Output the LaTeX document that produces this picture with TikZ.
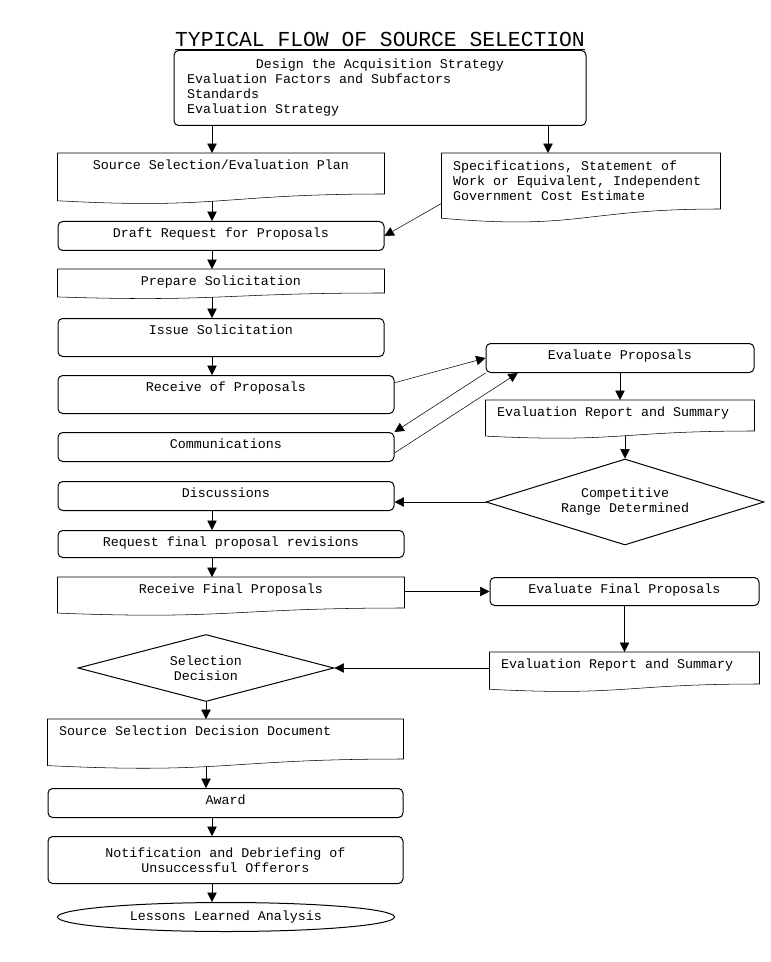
\documentclass[tikz,border=0pt]{standalone}
\usepackage{fontspec}
\setmonofont{Liberation Mono}
\usetikzlibrary{shapes.geometric, arrows.meta, calc, backgrounds}

% outline of a "document" box: flat top, wavy bottom
\newcommand{\docshape}[1]{%
  \draw[fill=white] (#1.north west) -- (#1.north east) -- (#1.south east)
    .. controls (#1.south) and ($(#1.south)!-0.381!(#1.north)$)
    .. ($(#1.south west)!-0.1646!(#1.north west)$) -- cycle;}

\begin{document}
\begin{tikzpicture}[
    x=0.75pt, y=-0.75pt,
    line width=0.75pt,
    every node/.style={font=\ttfamily\fontsize{10}{11.25}\selectfont,
      execute at begin node={\spaceskip=0pt\xspaceskip=0pt}},
    box/.style={rectangle, draw, rounded corners=3.5pt, anchor=north, inner sep=0pt, text height=12pt},
    tallbox/.style={rectangle, draw, rounded corners=3.5pt, anchor=north, inner ysep=0pt},
    docbox/.style={rectangle, anchor=north, inner sep=0pt, text height=12pt},
    leftdoc/.style={docbox, inner xsep=8.25pt, align=left},
    decision/.style={diamond, draw, inner sep=0pt, aspect=3.2, align=center},
    arrow/.style={-{Triangle[length=7pt, width=7pt]}}
  ]
    \useasboundingbox (0,0) rectangle (770,962);
    % Title
    \node[font=\ttfamily\fontsize{16}{19}\selectfont, anchor=base] (title) at (380,47) {\underline{TYPICAL FLOW OF SOURCE SELECTION}};
    % Nodes
    \node[tallbox, text width=289.5pt, inner xsep=9.75pt, minimum height=56.25pt, align=left] (design) at (380,50)
      {\makebox[\linewidth]{Design the Acquisition Strategy}\\Evaluation Factors and Subfactors\\Standards\\Evaluation Strategy};
    \node[docbox, minimum width=244.5pt, text depth=18pt] (plan) at (221,153) {Source Selection/Evaluation Plan};
    \node[anchor=north, inner ysep=0pt, inner xsep=8.25pt, text width=192pt, minimum height=41.25pt, align=left] (spec) at (581,153)
      {Specifications, Statement of\\Work or Equivalent, Independent\\Government Cost Estimate};
    \node[box, minimum width=244.5pt, text depth=9.75pt] (draft) at (221,221) {Draft Request for Proposals};
    \node[docbox, minimum width=244.5pt, text depth=5.25pt] (prep) at (221,269) {Prepare Solicitation};
    \node[box, minimum width=244.5pt, text depth=16.5pt] (issue) at (221,318) {Issue Solicitation};
    \node[box, minimum width=252pt, text depth=16.5pt] (recv) at (226,375) {Receive of Proposals};
    \node[box, minimum width=252pt, text depth=9.75pt] (comm) at (226,432) {Communications};
    \node[box, minimum width=201pt, text depth=9.75pt] (evalp) at (620,343) {Evaluate Proposals};
    \node[leftdoc, text width=184.5pt, text depth=10.5pt] (rep1) at (620,400) {Evaluation Report and Summary};
    \node[decision, minimum width=208.5pt, minimum height=64.5pt] (crd) at (625,502) {Competitive\\Range Determined};
    \node[box, minimum width=252pt, text depth=9.75pt] (disc) at (226,481) {Discussions};
    \node[box, minimum width=259.5pt, text depth=8.25pt] (req) at (231,530) {Request final proposal revisions};
    \node[docbox, minimum width=259.5pt, text depth=10.5pt] (recvf) at (231,577) {Receive Final Proposals};
    \node[box, minimum width=201.75pt, text depth=9pt] (evalf) at (624.5,577) {Evaluate Final Proposals};
    \node[leftdoc, text width=185.25pt, text depth=11.25pt] (rep2) at (624.5,652) {Evaluation Report and Summary};
    \node[decision, minimum width=192pt, minimum height=50.25pt] (sel) at (206,668) {Selection\\Decision};
    \node[leftdoc, text width=249.75pt, text depth=17.25pt] (ssdd) at (225.5,719) {Source Selection Decision Document};
    \node[box, minimum width=266.25pt, text depth=9.75pt] (award) at (225.5,788) {Award};
    \node[tallbox, minimum width=266.25pt, minimum height=35.25pt, align=center] (notif) at (225.5,836)
      {Notification and Debriefing of\\Unsuccessful Offerors};
    \node[ellipse, draw, inner sep=0pt, minimum width=252.75pt, minimum height=21.75pt] (lessons) at (226,917) {Lessons Learned Analysis};
    \coordinate (lcol) at (212,0);
    \coordinate (rcol) at (548,0);
    \begin{scope}[on background layer]
      % Arrows (main flow)
      \draw[arrow] (design.south -| lcol) -- (plan.north -| lcol);
      \draw[arrow] (design.south -| rcol) -- (spec.north -| rcol);
      \draw[arrow] (plan.south -| lcol) -- (draft.north -| lcol);
      \draw[arrow] ($(spec.south west)!0.1!(spec.north west)$) -- (draft.east);
      \draw[arrow] (draft.south -| lcol) -- (prep.north -| lcol);
      \draw[arrow] (prep.south -| lcol) -- (issue.north -| lcol);
      \draw[arrow] (issue.south -| lcol) -- (recv.north -| lcol);
      % Evaluation and communications
      \draw[arrow] ($(recv.north east)!0.2!(recv.south east)$) -- (evalp.west);
      \draw[arrow] (evalp.south west) -- (comm.north east);
      \draw[arrow] ($(comm.east)!0.4!(comm.south east)$) -- ($(evalp.south west)!0.12!(evalp.south east)$);
      \draw[arrow] (evalp.south) -- (rep1.north);
      \draw[arrow] (crd.north |- rep1.south) -- (crd.north);
      \draw[arrow] (crd.west) -- (crd.west -| disc.east);
      \draw[arrow] (disc.south -| lcol) -- (req.north -| lcol);
      \draw[arrow] (req.south -| lcol) -- (recvf.north -| lcol);
      % Final proposals and decision
      \draw[arrow] (evalf.west -| recvf.east) -- (evalf.west);
      \draw[arrow] (evalf.south) -- (rep2.north);
      \draw[arrow] (rep2.west) -- (sel.east);
      \draw[arrow] (sel.south) -- (sel.south |- ssdd.north);
      \draw[arrow] (ssdd.south -| sel.south) -- (award.north -| sel.south);
      \draw[arrow] (award.south -| lcol) -- (notif.north -| lcol);
      \draw[arrow] (notif.south -| lcol) -- (lessons.north -| lcol);
      % Document outlines
      \docshape{plan}
      \docshape{spec}
      \docshape{prep}
      \docshape{rep1}
      \docshape{recvf}
      \docshape{rep2}
      \docshape{ssdd}
    \end{scope}
\end{tikzpicture}
\end{document}
